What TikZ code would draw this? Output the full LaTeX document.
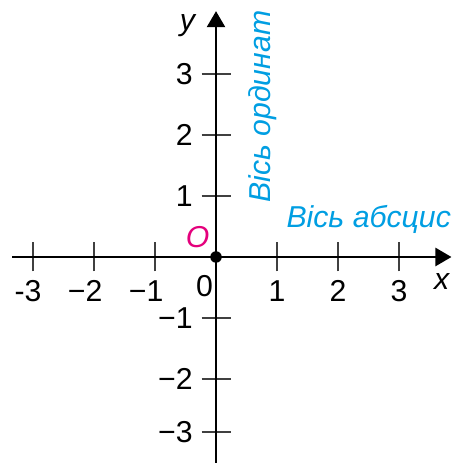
\documentclass[tikz,border=0pt]{standalone}
\usepackage{fontspec}
\setmainfont{Liberation Sans}
\usetikzlibrary{arrows.meta}
\definecolor{osblue}{RGB}{0,158,226}
\definecolor{osmagenta}{RGB}{228,0,124}

\begin{document}
\begin{tikzpicture}[
        x=1.22cm, y=1.22cm,
        font=\fontsize{17.2}{20}\selectfont,
        axis/.style={-{Triangle[length=0.32cm, width=0.36cm]}, line width=1.4pt},
        tick/.style={line width=0.6pt, black!75},
        num/.style={inner sep=0pt},
        letter/.style={inner sep=0pt, font=\fontsize{17.2}{20}\selectfont\itshape},
        axisname/.style={letter, text=osblue},
    ]
    \useasboundingbox (-3.541,-3.377) rectangle (3.869,4.213);

    % кінці осей
    \coordinate (xstart) at (-3.344,0);
    \coordinate (xend) at (3.86,0);
    \coordinate (ystart) at (0,-3.377);
    \coordinate (yend) at (0,4.03);
    \coordinate (origin) at (0,0);

    % поділки та числа на осі x
    \foreach \x/\t [count=\i] in {-3/{\llap{-}3}, -2/{\llap{−}2}, -1/{\llap{−}1}, 1/1, 2/2, 3/3} {
        \coordinate (xt\i) at (\x,0);
        \draw[tick] ([yshift=-0.29cm]xt\i) -- ([yshift=0.29cm]xt\i);
        \node[num, anchor=north] (xlab\i) at ([yshift=-0.46cm]xt\i) {\t};
    }

    % поділки та числа на осі y
    \foreach \y/\t [count=\i] in {3/3, 2/2, 1/1, -1/{\llap{−}1}, -2/{\llap{−}2}, -2.869/{\llap{−}3}} {
        \coordinate (yt\i) at (0,\y);
        \draw[tick] ([xshift=-0.29cm]yt\i) -- ([xshift=0.29cm]yt\i);
        \node[num, anchor=east] (ylab\i) at ([xshift=-0.46cm]yt\i) {\t};
    }

    % осі
    \draw[axis] (xstart) -- (xend);
    \draw[axis] (ystart) -- (yend);

    % початок координат
    \node[circle, fill=black, inner sep=0pt, minimum size=0.23cm] (o) at (origin) {};
    \node[letter, text=osmagenta] (olab) at (-0.30,0.33) {O};
    \node[num, anchor=north] (zero) at (-0.19,-0.29) {0};

    % підписи осей
    \node[letter, anchor=base] (xlab) at (3.70,-0.54) {x};
    \node[letter, anchor=base] (ylab) at (-0.47,3.72) {y};
    \node[axisname, anchor=base west] (abscis) at (1.15,0.49) {Вісь абсцис};
    \node[axisname, anchor=base west, rotate=90] (ordinat) at (0.90,0.885) {Вісь ординат};
\end{tikzpicture}
\end{document}
